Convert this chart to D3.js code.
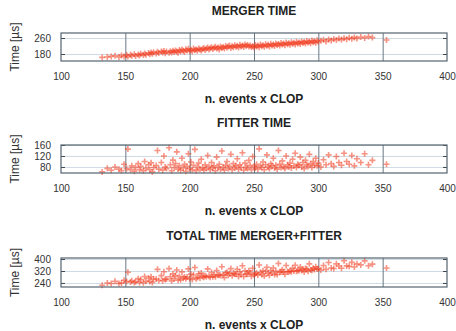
<!DOCTYPE html>
<html>
<head>
<meta charset="utf-8">
<script src="https://cdn.jsdelivr.net/npm/d3@7"></script>
<style>
  body { margin: 0; background: #fff; }
  svg { display: block; font-family: "Liberation Sans", Arial, sans-serif; }
</style>
</head>
<body>
<div id="chart"></div>
<script>
// n. events x CLOP for every event (shared by the three plots)
const clop = [132,136,139,142,145,147,149,151,152,154,155,157,158,160,161,162,164,165,166,168,
  169,170,171,172,174,175,176,178,179,180,181,182,184,185,186,187,188,189,190,191,
  192,193,194,195,196,197,198,199,200,201,202,203,204,205,206,207,208,209,210,211,
  212,213,214,215,216,217,218,219,220,221,222,223,224,225,226,227,228,229,230,231,
  232,233,234,235,236,237,238,239,240,241,242,243,244,245,246,247,248,249,250,251,
  252,253,254,255,256,257,258,259,260,261,262,263,264,265,266,267,268,269,270,271,
  272,273,274,275,276,277,278,279,280,281,282,283,284,285,286,287,288,289,290,291,
  292,293,294,295,296,297,298,299,300,302,304,306,308,310,312,314,316,318,320,322,
  324,326,328,330,333,336,339,342,353];

const mergerTime = [163,165,168,171,165,173,168,175,167,176,171,179,170,177,173,181,175,183,176,185,
  179,187,181,189,182,191,185,193,187,195,184,192,186,194,188,196,190,198,192,186,
  200,194,202,196,190,204,198,206,195,201,193,207,199,203,196,208,202,198,205,210,
  200,207,212,203,209,214,205,211,216,207,213,203,218,210,215,208,220,212,217,222,
  210,219,214,224,216,221,212,226,218,223,215,228,220,225,217,223,215,220,212,225,
  217,222,214,227,219,224,216,229,221,226,218,231,223,228,220,233,225,230,222,235,
  227,232,224,237,229,234,226,239,231,236,228,241,233,238,230,243,235,240,232,245,
  237,242,234,247,239,244,236,249,241,246,251,243,253,248,255,250,257,252,259,254,
  261,256,263,258,265,260,267,262,250];

const fitterTime = [62,75,68,80,72,66,90,74,145,70,84,64,78,92,70,82,66,100,75,88,
  70,95,62,78,85,140,72,96,68,120,80,74,150,88,66,105,78,92,135,72,
  84,68,112,76,90,64,82,128,74,98,70,86,144,66,80,94,72,108,78,68,
  88,74,122,82,70,96,76,84,66,116,78,90,72,138,80,68,86,100,74,82,
  126,70,92,76,84,110,72,88,78,132,68,94,80,74,104,86,70,118,82,76,
  90,72,146,84,78,98,70,88,124,80,74,92,84,112,76,86,72,140,90,78,
  102,82,74,120,88,80,94,76,108,84,130,78,90,86,116,80,96,74,104,88,
  82,126,92,78,100,86,112,84,94,80,106,88,124,92,82,118,96,86,130,100,
  90,122,84,110,96,128,88,104,90];

const totalTime = [225,240,236,251,237,239,258,249,312,246,255,243,248,269,243,263,241,283,251,273,
  249,282,243,267,267,331,257,289,255,315,264,266,336,282,254,301,268,290,327,258,
  284,262,314,272,280,268,280,334,269,299,263,293,343,269,276,302,274,306,283,278,
  288,281,334,285,279,310,281,295,282,323,291,293,290,348,295,276,306,312,291,304,
  336,289,306,300,300,331,284,314,296,355,283,322,300,299,321,309,285,338,294,301,
  307,294,360,311,297,322,286,317,345,306,292,323,307,340,296,319,297,370,312,313,
  329,314,298,357,317,314,320,315,339,320,358,319,323,324,346,323,331,314,336,333,
  319,368,326,325,339,330,348,333,335,326,357,331,377,340,337,368,353,338,389,354,
  351,378,347,368,361,388,355,366,340];

const xTicks = [100, 150, 200, 250, 300, 350, 400];
const mergerTicks = [180, 260];
const fitterTicks = [80, 120, 160];
const totalTicks = [240, 320, 400];

const width = 456, height = 331;
const left = 61, right = 447;

const panels = [
  { title: "MERGER TIME", values: mergerTime, ticks: mergerTicks, domain: [145, 285], top: 33, bottom: 61 },
  { title: "FITTER TIME", values: fitterTime, ticks: fitterTicks, domain: [58, 160], top: 145, bottom: 173 },
  { title: "TOTAL TIME MERGER+FITTER", values: totalTime, ticks: totalTicks, domain: [213, 407], top: 258, bottom: 287 }
];

const svg = d3.select("#chart")
  .append("svg")
  .attr("width", width)
  .attr("height", height);

// soften the markers a little, the original is a scanned figure
svg.append("defs")
  .append("filter")
  .attr("id", "soft")
  .append("feGaussianBlur")
  .attr("stdDeviation", 0.6);

const x = d3.scaleLinear()
  .domain([100, 400])
  .range([left, right]);

const red = "#f03a1e";

panels.forEach(p => {
  const y = d3.scaleLinear()
    .domain(p.domain)
    .range([p.bottom, p.top]);

  const g = svg.append("g");

  // title
  g.append("text")
    .attr("x", (left + right) / 2)
    .attr("y", p.top - 18)
    .attr("text-anchor", "middle")
    .attr("font-size", 12)
    .attr("font-weight", "bold")
    .attr("fill", "#222")
    .text(p.title);

  // horizontal grid
  g.append("g")
    .attr("transform", `translate(${left},0)`)
    .call(d3.axisLeft(y)
      .tickValues(p.ticks)
      .tickSize(-(right - left))
      .tickFormat(""))
    .call(a => a.select(".domain").remove())
    .call(a => a.selectAll("line").attr("stroke", "#cfdbe4"));

  // vertical grid
  g.append("g")
    .attr("transform", `translate(0,${p.bottom})`)
    .call(d3.axisBottom(x)
      .tickValues(xTicks.slice(1, -1))
      .tickSize(-(p.bottom - p.top))
      .tickFormat(""))
    .call(a => a.select(".domain").remove())
    .call(a => a.selectAll("line").attr("stroke", "#6a7883"));

  // points
  g.append("g")
    .attr("filter", "url(#soft)")
    .selectAll("path.pt")
    .data(clop)
    .enter()
    .append("path")
    .attr("class", "pt")
    .attr("d", (d, i) => {
      const cx = x(d), cy = y(p.values[i]);
      return `M${cx - 3},${cy}H${cx + 3}M${cx},${cy - 3}V${cy + 3}`;
    })
    .attr("stroke", red)
    .attr("stroke-width", 1.6)
    .attr("stroke-opacity", 0.55)
    .attr("fill", "none");

  // y ticks and labels on the left
  g.append("g")
    .attr("transform", `translate(${left},0)`)
    .call(d3.axisLeft(y)
      .tickValues(p.ticks)
      .tickSize(-4)
      .tickPadding(10))
    .call(a => a.select(".domain").remove())
    .call(a => a.selectAll("line").attr("stroke", "#3c4650"))
    .call(a => a.selectAll("text")
      .attr("font-size", 10)
      .attr("font-family", "Liberation Sans, Arial, sans-serif")
      .attr("fill", "#333"));

  // ticks on the right
  g.append("g")
    .attr("transform", `translate(${right},0)`)
    .call(d3.axisRight(y)
      .tickValues(p.ticks)
      .tickSize(-4)
      .tickFormat(""))
    .call(a => a.select(".domain").remove())
    .call(a => a.selectAll("line").attr("stroke", "#3c4650"));

  // box
  g.append("rect")
    .attr("x", left)
    .attr("y", p.top)
    .attr("width", right - left)
    .attr("height", p.bottom - p.top)
    .attr("fill", "none")
    .attr("stroke", "#56646f")
    .attr("stroke-width", 1.2);

  // x tick labels
  g.append("g")
    .attr("transform", `translate(0,${p.bottom})`)
    .call(d3.axisBottom(x)
      .tickValues(xTicks)
      .tickSize(0)
      .tickPadding(12))
    .call(a => a.select(".domain").remove())
    .call(a => a.selectAll("text")
      .attr("font-size", 10)
      .attr("font-family", "Liberation Sans, Arial, sans-serif")
      .attr("fill", "#333"));

  // x axis label
  g.append("text")
    .attr("x", (left + right) / 2)
    .attr("y", p.bottom + 42)
    .attr("text-anchor", "middle")
    .attr("font-size", 12)
    .attr("font-weight", "bold")
    .attr("fill", "#222")
    .text("n. events x CLOP");

  // y axis label
  g.append("text")
    .attr("transform", `translate(19,${(p.top + p.bottom) / 2}) rotate(-90)`)
    .attr("text-anchor", "middle")
    .attr("font-size", 12)
    .attr("fill", "#333")
    .text("Time [µs]");
});
</script>
</body>
</html>
